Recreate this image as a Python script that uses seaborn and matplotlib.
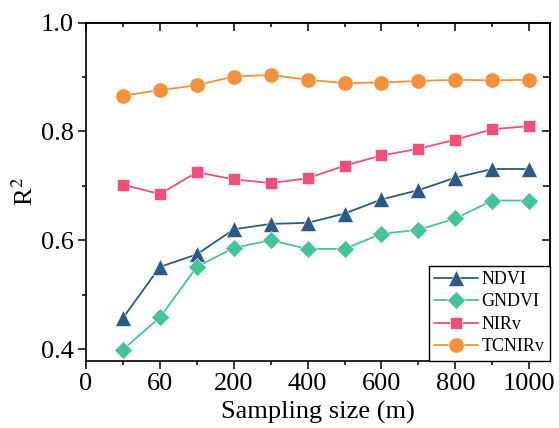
import matplotlib
matplotlib.use("Agg")
import matplotlib.pyplot as plt
import seaborn as sns
import pandas as pd
from matplotlib.ticker import FixedLocator, FixedFormatter

# ---- data ----
sizes = [30, 60, 100, 200, 300, 400, 500, 600, 700, 800, 900, 1000]
tick_labels = ["0", "60", "200", "400", "600", "800", "1000"]
ndvi = [0.457, 0.551, 0.574, 0.620, 0.630, 0.632, 0.649, 0.675, 0.692, 0.715, 0.731, 0.731]
gndvi = [0.399, 0.458, 0.551, 0.586, 0.600, 0.584, 0.584, 0.612, 0.619, 0.640, 0.673, 0.673]
nirv = [0.702, 0.685, 0.725, 0.712, 0.705, 0.714, 0.737, 0.756, 0.768, 0.785, 0.804, 0.810]
tcnirv = [0.866, 0.876, 0.885, 0.901, 0.904, 0.895, 0.889, 0.890, 0.893, 0.895, 0.894, 0.895]

series = {"NDVI": ndvi, "GNDVI": gndvi, "NIRv": nirv, "TCNIRv": tcnirv}
colors = {"NDVI": "#2B5A87", "GNDVI": "#45C39A", "NIRv": "#EF4F78", "TCNIRv": "#F5913A"}
markers = {"NDVI": "^", "GNDVI": "D", "NIRv": "s", "TCNIRv": "o"}
msizes = {"NDVI": 11.5, "GNDVI": 8.8, "NIRv": 9.0, "TCNIRv": 11.0}

rows = []
for name, vals in series.items():
    for i, (s, v) in enumerate(zip(sizes, vals)):
        rows.append({"pos": i + 1, "size": s, "R2": v, "Index": name})
df = pd.DataFrame(rows)

sns.set_style("ticks")
plt.rcParams["font.family"] = ["Liberation Serif", "DejaVu Serif"]
plt.rcParams["mathtext.fontset"] = "stix"
plt.rcParams["text.color"] = "black"
plt.rcParams["axes.labelcolor"] = "black"
plt.rcParams["xtick.color"] = "black"
plt.rcParams["ytick.color"] = "black"

fig = plt.figure(figsize=(5.59, 4.28), dpi=100)
ax = fig.add_axes([86 / 559, 1 - 360.7 / 428, (549.5 - 86) / 559, (360.7 - 22.7) / 428])

for name in series:
    sub = df[df["Index"] == name]
    sns.lineplot(data=sub, x="pos", y="R2", ax=ax, color=colors[name],
                 marker=markers[name], markersize=msizes[name],
                 markeredgecolor="#ffffff", markeredgewidth=0.4,
                 linewidth=1.3, label=name, legend=False)

ax.set_xlim(0, 12.55)
ax.set_ylim(0.3785, 1.0)

major_x = list(range(0, 13, 2))
minor_x = list(range(1, 13, 2))
major_y = [0.4, 0.6, 0.8, 1.0]
minor_y = [0.5, 0.7, 0.9]

ax.xaxis.set_major_locator(FixedLocator(major_x))
ax.xaxis.set_minor_locator(FixedLocator(minor_x))
ax.xaxis.set_major_formatter(FixedFormatter(tick_labels))
ax.yaxis.set_major_locator(FixedLocator(major_y))
ax.yaxis.set_minor_locator(FixedLocator(minor_y))
ax.yaxis.set_major_formatter(FixedFormatter(["0.4", "0.6", "0.8", "1.0"]))

for side in ["top", "right", "left", "bottom"]:
    ax.spines[side].set_visible(True)
    ax.spines[side].set_linewidth(1.2)
    ax.spines[side].set_color("black")

ax.tick_params(axis="both", which="major", length=6, width=1.1, labelsize=19,
               colors="black", pad=3, direction="out", top=False, right=False)
ax.tick_params(axis="both", which="minor", length=3, width=1.1, direction="out",
               top=False, right=False)

ax.set_xlabel("Sampling size (m)", fontsize=19, labelpad=4, color="black")
ax.set_ylabel(r"R$^2$", fontsize=19, labelpad=2, color="black")

leg = ax.legend(loc="lower right", fontsize=13, frameon=True, fancybox=False,
                edgecolor="black", borderaxespad=0, handlelength=2.4,
                handletextpad=0.2, labelspacing=0.3, borderpad=0.3)
leg.get_frame().set_linewidth(1.0)
leg.get_frame().set_alpha(1)
for t in leg.get_texts():
    t.set_color("black")

# inward ticks on top/right
axt = ax.secondary_xaxis("top")
axt.xaxis.set_major_locator(FixedLocator(major_x))
axt.xaxis.set_minor_locator(FixedLocator(minor_x))
axt.tick_params(which="major", direction="in", length=6, width=1.1, labeltop=False)
axt.tick_params(which="minor", direction="in", length=3, width=1.1)
axt.spines["top"].set_linewidth(1.2)
axr = ax.secondary_yaxis("right")
axr.yaxis.set_major_locator(FixedLocator(major_y))
axr.yaxis.set_minor_locator(FixedLocator(minor_y))
axr.tick_params(which="major", direction="in", length=6, width=1.1, labelright=False)
axr.tick_params(which="minor", direction="in", length=5, width=1.1)
axr.spines["right"].set_linewidth(1.2)

fig.savefig("out.png", dpi=100)
